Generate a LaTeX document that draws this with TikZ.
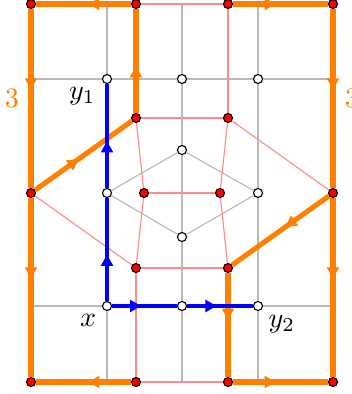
\documentclass[tikz,border=0pt]{standalone}
\usepackage{amsmath}
\usetikzlibrary{arrows.meta,positioning,decorations.markings}
\definecolor{pcorange}{HTML}{FF8000}
\definecolor{pcblue}{HTML}{0000FF}
\definecolor{pcred}{HTML}{FF8C8C}
\definecolor{pcgray}{HTML}{B9B9B9}
\tikzset{
  rdot/.style={circle, draw=black, fill=red, inner sep=0pt,
    minimum size=3.2pt, line width=0.4pt},
  wdot/.style={circle, draw=black, fill=white, inner sep=0pt,
    minimum size=3.2pt, line width=0.4pt},
  gline/.style={pcgray, line width=0.4pt},
  rline/.style={pcred, line width=0.4pt},
  midarr/.style={postaction={decorate}, decoration={markings,
    mark=at position #1 with {\arrow{Triangle[length=4pt, width=4.2pt]}}}},
  midarr/.default=0.45,
  opath/.style={pcorange, line width=1.8pt, midarr},
  bpath/.style={pcblue, line width=1.4pt, midarr},
}

\begin{document}
\begin{tikzpicture}[x=0.0125cm, y=-0.0125cm]
  \useasboundingbox (0,0) rectangle (352,394);
  % points of the two grids
  \foreach \n/\p in {y1/{107,79}, w2/{182,79}, w3/{258,79}, w4/{107,193},
      w5/{258,193}, w6/{182,150}, w7/{182,237}, x/{107,306}, w8/{182,306},
      y2/{258,306}}
    \node[wdot] (\n) at (\p) {};
  \foreach \n/\p in {a1/{31,4}, a2/{136,4}, a3/{228,4}, a4/{333,4},
      b1/{31,382}, b2/{136,382}, b3/{228,382}, b4/{333,382},
      c1/{136,118}, c2/{228,118}, d1/{31,193}, d2/{144,193},
      d3/{220,193}, d4/{333,193}, e1/{136,268}, e2/{228,268}}
    \node[rdot] (\n) at (\p) {};
  % free ends of the gray lines
  \foreach \n/\p in {gl1/{31,79}, gr1/{333,79}, gl2/{31,306}, gr2/{333,306},
      gt1/{107,4}, gt2/{182,4}, gt3/{258,4},
      gb1/{107,382}, gb2/{182,382}, gb3/{258,382}}
    \coordinate (\n) at (\p);
  \draw[gline] (gl1) -- (y1) -- (w2) -- (w3) -- (gr1);
  \draw[gline] (gl2) -- (x) -- (w8) -- (y2) -- (gr2);
  \draw[gline] (gt1) -- (y1) (x) -- (gb1);
  \draw[gline] (gt2) -- (w2) -- (w6) -- (w7) -- (w8) -- (gb2);
  \draw[gline] (gt3) -- (w3) -- (w5) -- (y2) -- (gb3);
  \draw[gline] (w4) -- (w6) -- (w5) -- (w7) -- (w4);
  % red lines
  \foreach \s/\t in {a2/a3, b2/b3, a3/c2, c1/c2, c1/d2, c2/d3, d2/d3,
      d2/e1, d3/e2, e1/e2, e1/b2, d1/e1, c2/d4}
    \draw[rline] (\s) -- (\t);
  % orange cycles
  \foreach \s/\t in {a2/a1, a1/d1, d1/b1, d1/c1, c1/a2, b2/b1,
      a3/a4, a4/d4, d4/b4, d4/e2, e2/b3, b3/b4}
    \draw[opath] (\s) -- (\t);
  % blue paths
  \foreach \s/\t in {x/w4, w4/y1, x/w8, w8/y2}
    \draw[bpath] (\s) -- (\t);
  \node[pcorange] (k3l) at (12,98) {3};
  \node[pcorange] (k3r) at (352,98) {3};
  \node[below left=-1.8pt and -0.7pt of y1] (ly1) {$y_1$};
  \node[below left=-1.7pt and -1pt of x] (lx) {$x$};
  \node[below right=-1.4pt and -1pt of y2] (ly2) {$y_2$};
\end{tikzpicture}
\end{document}
